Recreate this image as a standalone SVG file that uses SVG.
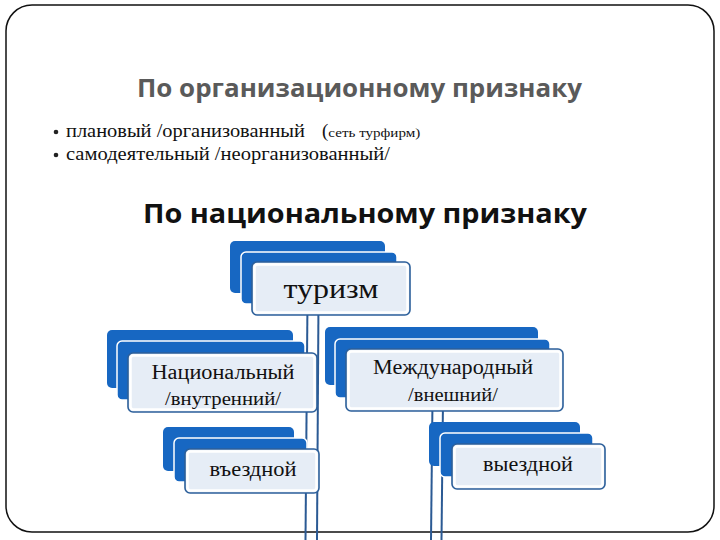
<svg xmlns="http://www.w3.org/2000/svg" width="720" height="540" viewBox="0 0 720 540">
<style>
.frame{fill:#fff;stroke:#111;stroke-width:1.5}
.h1{font-family:"Open Sans","Noto Sans",sans-serif;font-weight:bold;font-size:25px;fill:#5a5a5a}
.h2{font-family:"Open Sans","Noto Sans",sans-serif;font-weight:bold;font-size:27px;fill:#111}
.bl{font-family:"Liberation Serif","DejaVu Serif",serif;font-size:19px;fill:#111}
.sm{font-size:12px}
.back{fill:#1767c2}
.mid{fill:#1767c2;stroke:#fff;stroke-width:1.5}
.front{fill:#e6edf6;stroke:#2c5f9a;stroke-width:1.6}
.inner{fill:none;stroke:#fff;stroke-width:2.5}
.nt{font-family:"Liberation Serif","DejaVu Serif",serif;font-size:20px;fill:#111;text-anchor:middle}
.stem{stroke:#2b5a94;stroke-width:2;fill:none}
</style>
<rect class="frame" x="6" y="5" width="708" height="527" rx="26" ry="26"/>
<g id="heading-org">
<text class="h1" x="137" y="97" textLength="445" lengthAdjust="spacingAndGlyphs">По организационному признаку</text>
</g>
<g id="bullets">
<circle cx="56" cy="132" r="2.3" fill="#222"/>
<circle cx="56" cy="155" r="2.3" fill="#222"/>
<text class="bl" x="66" y="137" textLength="239" lengthAdjust="spacingAndGlyphs">плановый /организованный</text>
<text class="bl" x="322" y="137">(<tspan class="sm" textLength="92" lengthAdjust="spacingAndGlyphs">сеть турфирм)</tspan></text>
<text class="bl" x="66" y="160" textLength="324" lengthAdjust="spacingAndGlyphs">самодеятельный /неорганизованный/</text>
</g>
<g id="heading-nat">
<text class="h2" x="143" y="223" textLength="444" lengthAdjust="spacingAndGlyphs">По национальному признаку</text>
</g>
<g id="connectors">
<line class="stem" x1="307.5" y1="300" x2="305.5" y2="540"/>
<line class="stem" x1="318.5" y1="300" x2="317" y2="540"/>
<line class="stem" x1="432.5" y1="400" x2="431" y2="540"/>
<line class="stem" x1="443" y1="400" x2="441.5" y2="540"/>
</g>
<g id="node-turism">
<rect class="back" x="230" y="241" width="155" height="52" rx="5"/>
<rect class="mid" x="241" y="252" width="156" height="52" rx="5"/>
<rect class="front" x="252" y="262" width="158" height="53" rx="5"/>
<rect class="inner" x="254.5" y="264.5" width="153" height="48" rx="3"/>
<text class="nt" x="331" y="298" style="font-size:27px" textLength="95" lengthAdjust="spacingAndGlyphs">туризм</text>
</g>
<g id="node-national">
<rect class="back" x="107" y="330" width="186" height="58" rx="5"/>
<rect class="mid" x="117" y="341" width="188" height="59" rx="5"/>
<rect class="front" x="128" y="353" width="189" height="59" rx="5"/>
<rect class="inner" x="130.5" y="355.5" width="184" height="54" rx="3"/>
<text class="nt" x="223" y="379" textLength="143" lengthAdjust="spacingAndGlyphs">Национальный</text>
<text class="nt" x="223" y="405" style="font-size:18px" textLength="116" lengthAdjust="spacingAndGlyphs">/внутренний/</text>
</g>
<g id="node-international">
<rect class="back" x="325" y="327" width="213" height="58" rx="5"/>
<rect class="mid" x="335" y="339" width="215" height="59" rx="5"/>
<rect class="front" x="346" y="349" width="217" height="62" rx="5"/>
<rect class="inner" x="348.5" y="351.5" width="212" height="57" rx="3"/>
<text class="nt" x="453" y="374" textLength="160" lengthAdjust="spacingAndGlyphs">Международный</text>
<text class="nt" x="453" y="401" style="font-size:18px" textLength="90" lengthAdjust="spacingAndGlyphs">/внешний/</text>
</g>
<g id="node-inbound">
<rect class="back" x="163" y="427" width="131" height="44" rx="5"/>
<rect class="mid" x="174" y="438" width="133" height="44" rx="5"/>
<rect class="front" x="185" y="449" width="134" height="44" rx="5"/>
<rect class="inner" x="187.5" y="451.5" width="129" height="39" rx="3"/>
<text class="nt" x="253" y="476" textLength="87" lengthAdjust="spacingAndGlyphs">въездной</text>
</g>
<g id="node-outbound">
<rect class="back" x="429" y="422" width="151" height="44" rx="5"/>
<rect class="mid" x="440" y="433" width="153" height="44" rx="5"/>
<rect class="front" x="452" y="444" width="153" height="45" rx="5"/>
<rect class="inner" x="454.5" y="446.5" width="148" height="40" rx="3"/>
<text class="nt" x="528" y="471" textLength="90" lengthAdjust="spacingAndGlyphs">выездной</text>
</g>
</svg>
